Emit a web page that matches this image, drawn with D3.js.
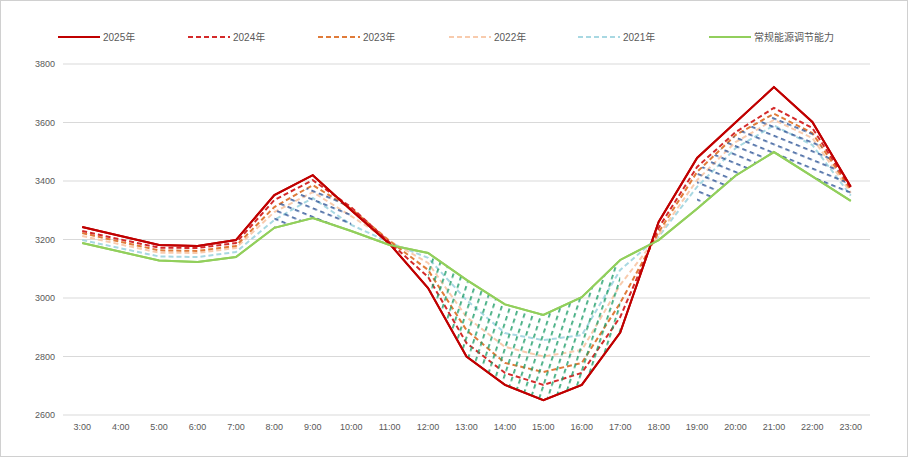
<!DOCTYPE html>
<html><head><meta charset="utf-8">
<script src="https://cdn.jsdelivr.net/npm/d3@7"></script>
<style>
html,body{margin:0;padding:0;background:#fff;}
svg text{font-family:"Liberation Sans","Noto Sans CJK SC",sans-serif;fill:#595959;}
</style></head>
<body><div id="chart"></div>
<script>
const hours = ["3:00","4:00","5:00","6:00","7:00","8:00","9:00","10:00","11:00","12:00","13:00","14:00","15:00","16:00","17:00","18:00","19:00","20:00","21:00","22:00","23:00"];
const yTicks = [2600,2800,3000,3200,3400,3600,3800];
const y2025 = [3243,3212,3181,3178,3198,3352,3420,3300,3185,3034,2800,2703,2651,2703,2882,3260,3479,3600,3721,3602,3380];
const y2024 = [3229,3200,3172,3171,3188,3335,3403,3310,3190,3072,2846,2744,2703,2744,2935,3240,3448,3567,3650,3581,3376];
const y2023 = [3222,3192,3163,3161,3178,3311,3386,3305,3195,3096,2890,2778,2747,2778,2983,3225,3431,3557,3630,3564,3370];
const y2022 = [3212,3183,3155,3154,3171,3294,3362,3280,3195,3120,2935,2833,2800,2822,3045,3215,3403,3533,3609,3547,3360];
const y2021 = [3198,3170,3142,3140,3157,3267,3342,3250,3190,3137,2993,2880,2856,2873,3096,3210,3380,3512,3590,3523,3350];
const yGreen = [3188,3158,3128,3123,3140,3240,3273,3229,3181,3154,3062,2978,2942,3003,3130,3198,3305,3418,3499,3416,3332];
const seriesNames = ["2025年","2024年","2023年","2022年","2021年","常规能源调节能力"];
const hatchPosMorning = [5,6,7];
const hatchPosEvening = [16,17,18,19,20];
const hatchNeg = [9,10,11,12,13,14];

const W = 908, H = 457;
const svg = d3.select("#chart").append("svg").attr("width", W).attr("height", H);
svg.append("rect").attr("x",0.5).attr("y",0.5).attr("width",W-1).attr("height",H-1)
  .attr("fill","#fff").attr("stroke","#D0D0D0");

const x = d3.scaleBand().domain(hours).range([63, 870]);
const y = d3.scaleLinear().domain([2600, 3800]).range([415, 64]);
const cx = h => x(h) + x.bandwidth()/2;

svg.append("g").selectAll("line").data(yTicks).join("line")
  .attr("x1",63).attr("x2",870).attr("y1",d=>y(d)).attr("y2",d=>y(d))
  .attr("stroke","#D9D9D9").attr("stroke-width",1);

const yAxis = d3.axisLeft(y).tickValues(yTicks).tickFormat(d3.format("d")).tickSize(0).tickPadding(8);
const gy = svg.append("g").attr("transform","translate(63,0)").call(yAxis);
gy.select(".domain").remove();
gy.selectAll("text").style("font-size","9px").attr("fill","#595959");
const xAxis = d3.axisBottom(x).tickSize(0).tickPadding(9);
const gx = svg.append("g").attr("transform","translate(0,415)").call(xAxis);
gx.select(".domain").remove();
gx.selectAll("text").style("font-size","9px").attr("fill","#595959");

const defs = svg.append("defs");
const pb = defs.append("pattern").attr("id","hatchBlue").attr("patternUnits","userSpaceOnUse")
  .attr("width",8).attr("height",8).attr("patternTransform","rotate(22)");
pb.append("rect").attr("x",0).attr("y",3).attr("width",4.5).attr("height",1.8).attr("fill","#2F5597");
const pg = defs.append("pattern").attr("id","hatchGreen").attr("patternUnits","userSpaceOnUse")
  .attr("width",8).attr("height",8).attr("patternTransform","rotate(18)");
pg.append("rect").attr("x",3).attr("y",0).attr("width",1.8).attr("height",4.5).attr("fill","#1E9E6A");

const areaPos = d3.area().x(i=>cx(hours[i])).y0(i=>y(yGreen[i])).y1(i=>y(Math.max(y2023[i],yGreen[i])));
const areaNeg = d3.area().x(i=>cx(hours[i])).y0(i=>y(yGreen[i])).y1(i=>y(Math.min(y2025[i],yGreen[i])));

const line = arr => d3.line().x((d,i)=>cx(hours[i])).y(d=>y(d))(arr);
const styles = [
  {data:y2025, color:"#C00000", dash:null, w:2},
  {data:y2024, color:"#D42A2A", dash:"5,3", w:2},
  {data:y2023, color:"#E07B39", dash:"5,3", w:2},
  {data:y2022, color:"#F8CBAD", dash:"5,3", w:2},
  {data:y2021, color:"#A8D8E2", dash:"5,3", w:2},
  {data:yGreen, color:"#92CF5C", dash:null, w:2}
];
styles.slice().reverse().forEach(s=>{
  svg.append("path").attr("d",line(s.data)).attr("fill","none")
    .attr("stroke",s.color).attr("stroke-width",s.w)
    .attr("stroke-dasharray",s.dash);
});
[hatchPosMorning, hatchPosEvening].forEach(ix=>{
  svg.append("path").datum(ix).attr("d",areaPos).attr("fill","url(#hatchBlue)").attr("opacity",0.85);
});
svg.append("path").datum(hatchNeg).attr("d",areaNeg).attr("fill","url(#hatchGreen)").attr("opacity",0.85);
svg.append("path").attr("d",line(y2025)).attr("fill","none").attr("stroke","#C00000").attr("stroke-width",2);
svg.append("path").attr("d",line(yGreen)).attr("fill","none").attr("stroke","#92CF5C").attr("stroke-width",2);

const legX = [58,188,318,449,578,709];
const lg = svg.append("g");
styles.forEach((s,i)=>{
  lg.append("line").attr("x1",legX[i]).attr("x2",legX[i]+42).attr("y1",37).attr("y2",37)
    .attr("stroke",s.color).attr("stroke-width",2).attr("stroke-dasharray",s.dash);
  lg.append("text").attr("x",legX[i]+45).attr("y",41).style("font-size","10px").text(seriesNames[i]);
});
</script></body></html>
